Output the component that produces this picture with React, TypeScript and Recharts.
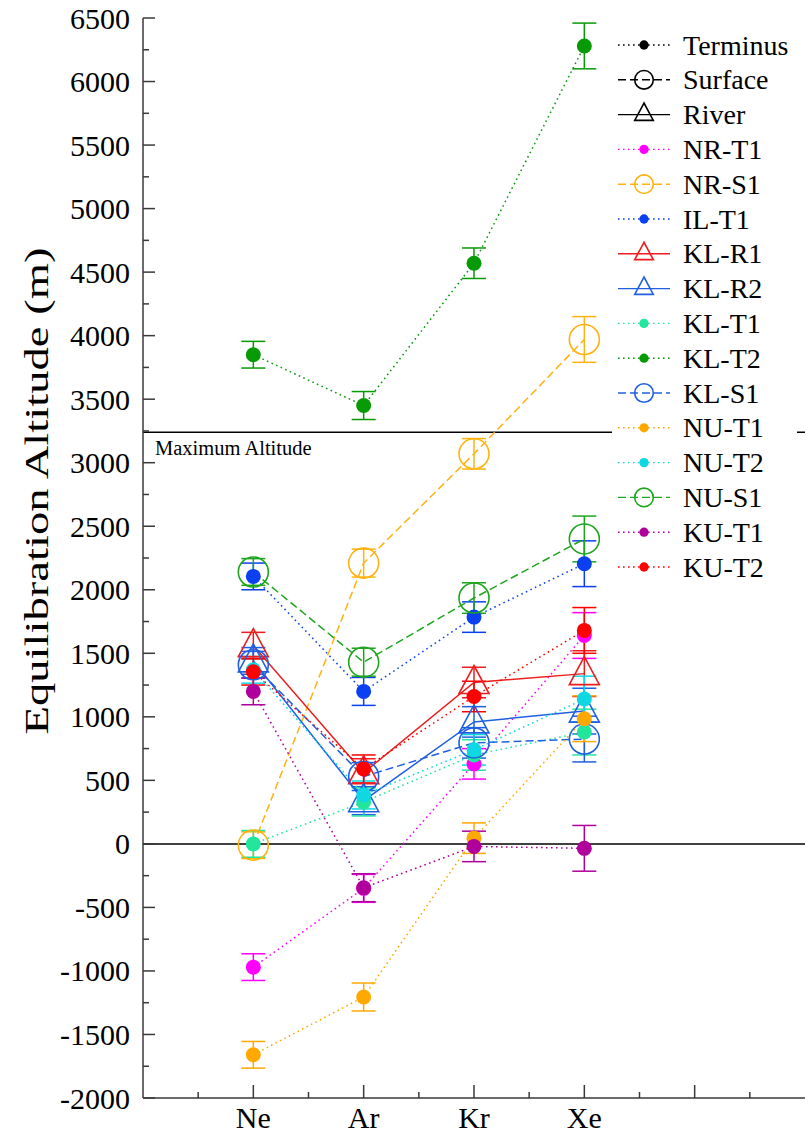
import React from "react";
import { LineChart, Line, XAxis, YAxis, ErrorBar, ReferenceLine } from "recharts";

// noble gases along the x axis (positions 1..4)
const gases = ["Ne", "Ar", "Kr", "Xe"];
const gasErr = [105, 110, 120, 180];

// equilibration altitudes (m) per sample, in gas order Ne, Ar, Kr, Xe
const nrT1 = [-970, -350, 630, 1640];
const nrS1 = [-10, 2210, 3070, 3970];
const ilT1 = [2105, 1200, 1785, 2205];
const klR1 = [1560, 560, 1270, 1340];
const klR2 = [1440, 340, 960, 1045];
const klT1 = [0, 330, 700, 880];
const klT2 = [3850, 3450, 4570, 6280];
const klS1 = [1410, 530, 795, 825];
const nuT1 = [-1660, -1205, 45, 985];
const nuT2 = [1370, 385, 740, 1140];
const nuS1 = [2140, 1430, 1935, 2400];
const kuT1 = [1200, -345, -20, -35];
const kuT2 = [1355, 590, 1160, 1680];

const maxAltitude = 3240;

const yTicks = [
  -2000, -1750, -1500, -1250, -1000, -750, -500, -250, 0, 250, 500, 750, 1000, 1250, 1500, 1750,
  2000, 2250, 2500, 2750, 3000, 3250, 3500, 3750, 4000, 4250, 4500, 4750, 5000, 5250, 5500, 5750,
  6000, 6250, 6500,
];
const xTicks = [0.5, 1, 1.5, 2, 2.5, 3, 3.5, 4, 4.5, 5, 5.5];

type LineKind = "dot" | "dash" | "solid";
type MarkKind = "fill" | "open" | "tri";

const series: { name: string; values: number[]; color: string; line: LineKind; mark: MarkKind }[] = [
  { name: "NR-T1", values: nrT1, color: "#ff00ff", line: "dot", mark: "fill" },
  { name: "NR-S1", values: nrS1, color: "#ffb210", line: "dash", mark: "open" },
  { name: "IL-T1", values: ilT1, color: "#0a40f0", line: "dot", mark: "fill" },
  { name: "KL-R1", values: klR1, color: "#ee1c1c", line: "solid", mark: "tri" },
  { name: "KL-R2", values: klR2, color: "#2060e0", line: "solid", mark: "tri" },
  { name: "KL-T1", values: klT1, color: "#22e69c", line: "dot", mark: "fill" },
  { name: "KL-T2", values: klT2, color: "#079a07", line: "dot", mark: "fill" },
  { name: "KL-S1", values: klS1, color: "#2060e0", line: "dash", mark: "open" },
  { name: "NU-T1", values: nuT1, color: "#ffa800", line: "dot", mark: "fill" },
  { name: "NU-T2", values: nuT2, color: "#10d8e2", line: "dot", mark: "fill" },
  { name: "NU-S1", values: nuS1, color: "#1ea51e", line: "dash", mark: "open" },
  { name: "KU-T1", values: kuT1, color: "#b0009c", line: "dot", mark: "fill" },
  { name: "KU-T2", values: kuT2, color: "#ff0000", line: "dot", mark: "fill" },
];

const legendKinds: { name: string; color: string; line: LineKind; mark: MarkKind }[] = [
  { name: "Terminus", color: "#000", line: "dot", mark: "fill" },
  { name: "Surface", color: "#000", line: "dash", mark: "open" },
  { name: "River", color: "#000", line: "solid", mark: "tri" },
];

const FONT = "Liberation Serif, Times New Roman, serif";
const AXIS = "#3a3a3a";

const dashFor = (k: LineKind) => (k === "dot" ? "1.6 3.4" : k === "dash" ? "8 4" : undefined);

const Marker = ({ cx, cy, color, mark, s = 1 }: { cx: number; cy: number; color: string; mark: MarkKind; s?: number }) => {
  if (mark === "fill") return <circle cx={cx} cy={cy} r={7.5 * s} fill={color} />;
  if (mark === "open") return <circle cx={cx} cy={cy} r={15 * s} fill="none" stroke={color} strokeWidth={1.6} />;
  const pts = `${cx},${cy - 17 * s} ${cx - 15 * s},${cy + 11 * s} ${cx + 15 * s},${cy + 11 * s}`;
  return <polygon points={pts} fill="none" stroke={color} strokeWidth={1.6} />;
};

const LeftTick = (p: any) => {
  const v = p.payload.value;
  const major = v % 500 === 0;
  return (
    <g>
      <line x1={p.x} x2={p.x + (major ? 12 : 6)} y1={p.y} y2={p.y} stroke={AXIS} strokeWidth={1.5} />
      {major && (
        <text x={p.x - 13} y={p.y} dy="0.35em" textAnchor="end" style={{ fontFamily: FONT, fontSize: 30 }} fill="#000">
          {v}
        </text>
      )}
    </g>
  );
};

const RightTick = (p: any) => {
  const major = p.payload.value % 500 === 0;
  return <line x1={p.x} x2={p.x - (major ? 12 : 6)} y1={p.y} y2={p.y} stroke={AXIS} strokeWidth={1.5} />;
};

const BottomTick = (p: any) => {
  const v = p.payload.value;
  const major = Number.isInteger(v);
  const label = major ? gases[v - 1] : undefined;
  return (
    <g>
      <line x1={p.x} x2={p.x} y1={p.y} y2={p.y - (major ? 13 : 6)} stroke={AXIS} strokeWidth={1.5} />
      {label && (
        <text x={p.x} y={p.y + 30} textAnchor="middle" style={{ fontFamily: FONT, fontSize: 30 }} fill="#000">
          {label}
        </text>
      )}
    </g>
  );
};

const TopTick = (p: any) => {
  const major = Number.isInteger(p.payload.value);
  return <line x1={p.x} x2={p.x} y1={p.y} y2={p.y + (major ? 13 : 6)} stroke={AXIS} strokeWidth={1.5} />;
};

const rows = (values: number[]) => values.map((y, i) => ({ x: i + 1, y, err: gasErr[i] }));

const LegendBox = () => {
  const items = [...legendKinds, ...series];
  return (
    <svg width={812} height={1133} style={{ position: "absolute", left: 0, top: 0, pointerEvents: "none" }}>
      <rect x={612} y={22} width={185} height={564} fill="#fff" />
      {items.map((it, i) => {
        const cy = 45 + i * 34.8;
        return (
          <g key={it.name}>
            <line x1={618} x2={670} y1={cy} y2={cy} stroke={it.color} strokeWidth={1.4} strokeDasharray={dashFor(it.line)} />
            <Marker cx={644} cy={it.mark === "tri" ? cy - 1 : cy} color={it.color} mark={it.mark} s={0.62} />
            <text x={683} y={cy + 9.5} style={{ fontFamily: FONT, fontSize: 28 }} fill="#000">
              {it.name}
            </text>
          </g>
        );
      })}
    </svg>
  );
};

export default function App() {
  return (
    <div style={{ position: "absolute", left: 0, top: 0, width: 812, height: 1133, background: "#fff", fontFamily: FONT }}>
      <LineChart width={812} height={1133} margin={{ top: 18, right: 7, bottom: 0, left: 0 }}>
        <XAxis
          xAxisId="b"
          type="number"
          dataKey="x"
          domain={[0, 6]}
          ticks={xTicks}
          interval={0}
          height={35}
          tickSize={0}
          tickMargin={0}
          tick={BottomTick}
          axisLine={{ stroke: AXIS, strokeWidth: 1.5 }}
          allowDataOverflow
        />
        <XAxis
          xAxisId="t"
          orientation="top"
          type="number"
          dataKey="x"
          domain={[0, 6]}
          ticks={xTicks}
          interval={0}
          height={0}
          tickSize={0}
          tickMargin={0}
          tick={TopTick}
          axisLine={{ stroke: AXIS, strokeWidth: 1.5 }}
          allowDataOverflow
        />
        <YAxis
          yAxisId="l"
          type="number"
          domain={[-2000, 6500]}
          ticks={yTicks}
          interval={0}
          width={143}
          tickSize={0}
          tickMargin={0}
          tick={LeftTick}
          axisLine={{ stroke: AXIS, strokeWidth: 1.5 }}
          allowDataOverflow
          label={{
            content: () => (
              <text
                x={37}
                y={491}
                transform="rotate(-90 37 491)"
                textAnchor="middle"
                dominantBaseline="central"
                style={{ fontFamily: FONT, fontSize: 33 }}
                textLength={487}
                lengthAdjust="spacingAndGlyphs"
                fill="#000"
              >
                Equilibration Altitude (m)
              </text>
            ),
          }}
        />
        <YAxis
          yAxisId="r"
          orientation="right"
          type="number"
          domain={[-2000, 6500]}
          ticks={yTicks}
          interval={0}
          width={0}
          tickSize={0}
          tickMargin={0}
          tick={RightTick}
          axisLine={{ stroke: AXIS, strokeWidth: 1.5 }}
          allowDataOverflow
        />
        <ReferenceLine xAxisId="b" yAxisId="l" y={0} stroke="#000" strokeWidth={1.5} />
        <ReferenceLine
          xAxisId="b"
          yAxisId="l"
          y={maxAltitude}
          stroke="#000"
          strokeWidth={1.5}
          label={{
            content: (p: any) => (
              <text x={p.viewBox.x + 12} y={p.viewBox.y + 23} style={{ fontFamily: FONT, fontSize: 20.5 }} fill="#000">
                Maximum Altitude
              </text>
            ),
          }}
        />
        {series.map((s) => (
          <Line
            key={s.name}
            xAxisId="b"
            yAxisId="l"
            data={rows(s.values)}
            dataKey="y"
            name={s.name}
            stroke={s.color}
            strokeWidth={1.5}
            strokeDasharray={dashFor(s.line)}
            isAnimationActive={false}
            activeDot={false}
            dot={(p: any) => <Marker key={`${s.name}-${p.index}`} cx={p.cx} cy={p.cy} color={s.color} mark={s.mark} />}
          >
            <ErrorBar dataKey="err" direction="y" width={12} stroke={s.color} strokeWidth={1.5} isAnimationActive={false} />
          </Line>
        ))}
      </LineChart>
      <LegendBox />
    </div>
  );
}
